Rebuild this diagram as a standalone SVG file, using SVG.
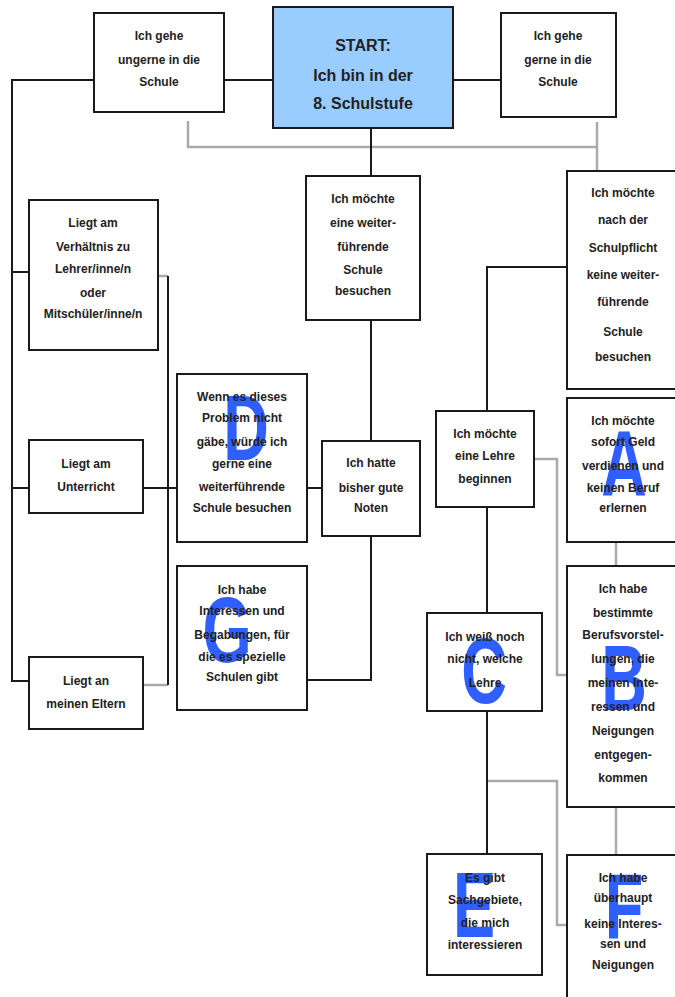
<svg xmlns="http://www.w3.org/2000/svg" width="675" height="997" viewBox="0 0 675 997">
<style>
.box{fill:#fff;stroke:#1a1a1a;stroke-width:2}
.start{fill:#99CCFF;stroke:#1a1a1a;stroke-width:2}
.t{font-family:"Liberation Sans",Arial,sans-serif;font-weight:bold;font-size:12px;fill:#222;text-anchor:middle}
.ts{font-family:"Liberation Sans",Arial,sans-serif;font-weight:bold;font-size:16px;fill:#222;text-anchor:middle}
.big{font-family:"Liberation Sans",Arial,sans-serif;font-weight:bold;font-size:93px;fill:#2F5FFF;text-anchor:middle}
.k{fill:none;stroke:#1a1a1a;stroke-width:2}
.g{fill:none;stroke:#aaaaaa;stroke-width:2.5}
</style>
<rect width="675" height="997" fill="#fff"/>
<g id="connectors">
<path class="g" d="M188 121 V147 H597"/>
<path class="g" d="M597 122 V171"/>
<path class="g" d="M158 276 H168"/>
<path class="g" d="M143 685 H168"/>
<path class="g" d="M534 459 H557 V675 H567"/>
<path class="g" d="M616 542 V566"/>
<path class="g" d="M616 807 V855"/>
<path class="g" d="M487 781 H557 V925 H567"/>
<path class="k" d="M224 80 H273"/>
<path class="k" d="M453 80 H501"/>
<path class="k" d="M94 80 H12 V681 H29"/>
<path class="k" d="M12 272 H29"/>
<path class="k" d="M12 488 H29"/>
<path class="k" d="M143 488 H177"/>
<path class="k" d="M168 276 V685"/>
<path class="k" d="M371 128 V176"/>
<path class="k" d="M371 320 V441"/>
<path class="k" d="M307 488 H322"/>
<path class="k" d="M371 536 V680 H307"/>
<path class="k" d="M567 267 H487 V411"/>
<path class="k" d="M487 507 V613"/>
<path class="k" d="M487 711 V854"/>
</g>
<g id="ungerne">
<rect class="box" x="94" y="13" width="130" height="99"/>
<text class="t" x="159" y="40">Ich gehe</text>
<text class="t" x="159" y="64">ungerne in die</text>
<text class="t" x="159" y="86">Schule</text>
</g>
<g id="start">
<rect class="start" x="273" y="7" width="180" height="121"/>
<text class="ts" x="363" y="51">START:</text>
<text class="ts" x="363" y="81">Ich bin in der</text>
<text class="ts" x="363" y="109">8. Schulstufe</text>
</g>
<g id="gerne">
<rect class="box" x="501" y="13" width="115" height="104"/>
<text class="t" x="558" y="40">Ich gehe</text>
<text class="t" x="558" y="64">gerne in die</text>
<text class="t" x="558" y="86">Schule</text>
</g>
<g id="weiterfuehrend">
<rect class="box" x="306" y="176" width="114" height="144"/>
<text class="t" x="363" y="203">Ich möchte</text>
<text class="t" x="363" y="227">eine weiter-</text>
<text class="t" x="363" y="251">führende</text>
<text class="t" x="363" y="274">Schule</text>
<text class="t" x="363" y="295">besuchen</text>
</g>
<g id="keine-weiterfuehrende">
<rect class="box" x="567" y="171" width="120" height="218"/>
<text class="t" x="623" y="197">Ich möchte</text>
<text class="t" x="623" y="224">nach der</text>
<text class="t" x="623" y="252">Schulpflicht</text>
<text class="t" x="623" y="279">keine weiter-</text>
<text class="t" x="623" y="306">führende</text>
<text class="t" x="623" y="336">Schule</text>
<text class="t" x="623" y="361">besuchen</text>
</g>
<g id="verhaeltnis">
<rect class="box" x="29" y="200" width="129" height="150"/>
<text class="t" x="93" y="227">Liegt am</text>
<text class="t" x="93" y="251">Verhältnis zu</text>
<text class="t" x="93" y="273">Lehrer/inne/n</text>
<text class="t" x="93" y="297">oder</text>
<text class="t" x="93" y="318">Mitschüler/inne/n</text>
</g>
<g id="unterricht">
<rect class="box" x="29" y="440" width="114" height="73"/>
<text class="t" x="86" y="468">Liegt am</text>
<text class="t" x="86" y="491">Unterricht</text>
</g>
<g id="D">
<rect class="box" x="177" y="374" width="130" height="168"/>
<text class="big" transform="translate(246 460) scale(0.68 1)">D</text>
<text class="t" x="242" y="401">Wenn es dieses</text>
<text class="t" x="242" y="422">Problem nicht</text>
<text class="t" x="242" y="446">gäbe, würde ich</text>
<text class="t" x="242" y="468">gerne eine</text>
<text class="t" x="242" y="491">weiterführende</text>
<text class="t" x="242" y="512">Schule besuchen</text>
</g>
<g id="noten">
<rect class="box" x="322" y="441" width="98" height="95"/>
<text class="t" x="371" y="467">Ich hatte</text>
<text class="t" x="371" y="492">bisher gute</text>
<text class="t" x="371" y="512">Noten</text>
</g>
<g id="G">
<rect class="box" x="177" y="566" width="130" height="144"/>
<text class="big" transform="translate(227 662) scale(0.68 1)">G</text>
<text class="t" x="242" y="594">Ich habe</text>
<text class="t" x="242" y="615">Interessen und</text>
<text class="t" x="242" y="639">Begabungen, für</text>
<text class="t" x="242" y="661">die es spezielle</text>
<text class="t" x="242" y="681">Schulen gibt</text>
</g>
<g id="eltern">
<rect class="box" x="29" y="657" width="114" height="72"/>
<text class="t" x="86" y="685">Liegt an</text>
<text class="t" x="86" y="708">meinen Eltern</text>
</g>
<g id="lehre">
<rect class="box" x="436" y="411" width="98" height="96"/>
<text class="t" x="485" y="438">Ich möchte</text>
<text class="t" x="485" y="460">eine Lehre</text>
<text class="t" x="485" y="483">beginnen</text>
</g>
<g id="A">
<rect class="box" x="567" y="398" width="120" height="144"/>
<text class="big" transform="translate(624 495) scale(0.68 1)">A</text>
<text class="t" x="623" y="425">Ich möchte</text>
<text class="t" x="623" y="446">sofort Geld</text>
<text class="t" x="623" y="470">verdienen und</text>
<text class="t" x="623" y="492">keinen Beruf</text>
<text class="t" x="623" y="512">erlernen</text>
</g>
<g id="B">
<rect class="box" x="567" y="566" width="120" height="241"/>
<text class="big" transform="translate(624 710) scale(0.68 1)">B</text>
<text class="t" x="623" y="593">Ich habe</text>
<text class="t" x="623" y="617">bestimmte</text>
<text class="t" x="623" y="639">Berufsvorstel-</text>
<text class="t" x="623" y="663">lungen, die</text>
<text class="t" x="623" y="687">meinen Inte-</text>
<text class="t" x="623" y="711">ressen und</text>
<text class="t" x="623" y="735">Neigungen</text>
<text class="t" x="623" y="759">entgegen-</text>
<text class="t" x="623" y="782">kommen</text>
</g>
<g id="C">
<rect class="box" x="427" y="613" width="115" height="98"/>
<text class="big" transform="translate(484 703) scale(0.68 1)">C</text>
<text class="t" x="485" y="641">Ich weiß noch</text>
<text class="t" x="485" y="663">nicht, welche</text>
<text class="t" x="485" y="687">Lehre</text>
</g>
<g id="E">
<rect class="box" x="427" y="854" width="115" height="121"/>
<text class="big" transform="translate(474 937) scale(0.68 1)">E</text>
<text class="t" x="485" y="882">Es gibt</text>
<text class="t" x="485" y="904">Sachgebiete,</text>
<text class="t" x="485" y="927">die mich</text>
<text class="t" x="485" y="949">interessieren</text>
</g>
<g id="F">
<rect class="box" x="567" y="855" width="120" height="160"/>
<text class="big" transform="translate(624 938) scale(0.68 1)">F</text>
<text class="t" x="623" y="882">Ich habe</text>
<text class="t" x="623" y="902">überhaupt</text>
<text class="t" x="623" y="928">keine Interes-</text>
<text class="t" x="623" y="948">sen und</text>
<text class="t" x="623" y="969">Neigungen</text>
</g>
</svg>
